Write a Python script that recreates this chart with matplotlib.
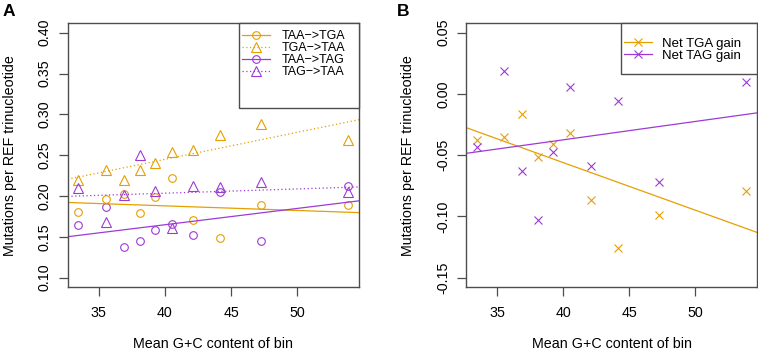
import matplotlib
matplotlib.use('Agg')
import matplotlib.pyplot as plt
from matplotlib.lines import Line2D
from matplotlib.patches import Rectangle
import numpy as np

plt.rcParams['font.family'] = ['Liberation Sans', 'DejaVu Sans']

# mean G+C content of each bin
gc = [33.46, 35.55, 36.88, 38.09, 39.24, 40.55, 42.13, 44.16, 47.23, 53.79]

# panel A: mutations per REF trinucleotide
taa_tga = [0.180, 0.196, 0.202, 0.179, 0.199, 0.222, 0.170, 0.148, 0.1885, 0.1885]
tga_taa = [0.2195, 0.2317, 0.2195, 0.2317, 0.2407, 0.254, 0.2563, 0.275, 0.288, 0.269]
taa_tag = [0.1647, 0.1864, 0.137, 0.1451, 0.1586, 0.1652, 0.1517, 0.2046, 0.1444, 0.2125]
tag_taa = [0.2093, 0.1676, 0.2011, 0.2497, 0.206, 0.161, 0.2125, 0.2113, 0.217, 0.2044]

# panel B: net gains
net_tga = [-0.0378, -0.0348, -0.016, -0.0517, -0.0408, -0.0321, -0.0862, -0.1259, -0.0987, -0.0791]
net_tag = [-0.0432, 0.019, -0.0628, -0.1028, -0.047, 0.0054, -0.059, -0.0057, -0.0715, 0.0098]

orange = '#E69F00'
purple = '#9D3AD6'
frame = '#4d4d4d'

xlim = (32.66, 54.65)


def style_axes(ax, ylim, yticks):
    ax.set_xlim(xlim)
    ax.set_ylim(ylim)
    ax.set_xticks([35, 40, 45, 50])
    ax.set_yticks(yticks)
    ax.yaxis.set_major_formatter(matplotlib.ticker.FormatStrFormatter('%.2f'))
    for s in ax.spines.values():
        s.set_color(frame)
        s.set_linewidth(1.0)
    ax.tick_params(direction='out', length=6.5, width=0.9, color=frame,
                   labelsize=10.3, pad=5)
    ax.tick_params(axis='x', pad=7)
    for lab in ax.get_yticklabels():
        lab.set_rotation(90)
        lab.set_va('center')
    ax.set_xlabel('Mean G+C content of bin', fontsize=10.3, labelpad=12)
    ax.set_ylabel('Mutations per REF trinucleotide', fontsize=10.3, labelpad=15)


def fit_line(ax, x, y, color, ls):
    m, b = np.polyfit(x, y, 1)
    ax.axline((0, b), slope=m, color=color, lw=0.9, ls=ls)


def legend_box(ax, x0, y0):
    # R style legend frame, drawn as a patch behind the legend entries
    ax.add_patch(Rectangle((x0, y0), 1 - x0, 1 - y0, transform=ax.transAxes,
                           facecolor='white', edgecolor=frame, lw=1.0,
                           zorder=4, clip_on=False))


fig = plt.figure(figsize=(7.58, 3.56), dpi=100)
axA = fig.add_axes([0.0893, 0.193, 0.3843, 0.7416])
axB = fig.add_axes([0.6148, 0.193, 0.3839, 0.7416])

# panel A
mk = dict(ls='none', mfc='none', mew=0.8)
axA.plot(gc, taa_tga, marker='o', ms=5.5, mec=orange, **mk)
axA.plot(gc, tga_taa, marker='^', ms=6.5, mec=orange, **mk)
axA.plot(gc, taa_tag, marker='o', ms=5.5, mec=purple, **mk)
axA.plot(gc, tag_taa, marker='^', ms=6.5, mec=purple, **mk)
fit_line(axA, gc, taa_tga, orange, '-')
fit_line(axA, gc, tga_taa, orange, (0, (1, 2)))
fit_line(axA, gc, taa_tag, purple, '-')
fit_line(axA, gc, tag_taa, purple, (0, (1, 2)))
style_axes(axA, (0.0882, 0.4115), [0.10, 0.15, 0.20, 0.25, 0.30, 0.35, 0.40])

handlesA = [
    Line2D([], [], color=orange, ls='-', lw=0.9, marker='o', ms=5.5, mfc='none', mew=0.8),
    Line2D([], [], color=orange, ls=(0, (1, 2)), lw=0.9, marker='^', ms=6.5, mfc='none', mew=0.8),
    Line2D([], [], color=purple, ls='-', lw=0.9, marker='o', ms=5.5, mfc='none', mew=0.8),
    Line2D([], [], color=purple, ls=(0, (1, 2)), lw=0.9, marker='^', ms=6.5, mfc='none', mew=0.8),
]
legend_box(axA, 0.587, 0.679)
legA = axA.legend(handlesA, ['TAA\u2212>TGA', 'TGA\u2212>TAA', 'TAA\u2212>TAG', 'TAG\u2212>TAA'],
                  loc='upper left', bbox_to_anchor=(0.582, 0.99), borderaxespad=0,
                  fontsize=9, labelspacing=0.0, handlelength=2.3, handletextpad=0.9,
                  borderpad=0.35, frameon=False)
legA.set_zorder(5)

# panel B
axB.plot(gc, net_tga, marker='x', ms=6, color=orange, ls='none', mew=0.8)
axB.plot(gc, net_tag, marker='x', ms=6, color=purple, ls='none', mew=0.8)
fit_line(axB, gc, net_tga, orange, '-')
fit_line(axB, gc, net_tag, purple, '-')
style_axes(axB, (-0.1578, 0.0577), [-0.15, -0.10, -0.05, 0.00, 0.05])

handlesB = [
    Line2D([], [], color=orange, ls='-', lw=0.9, marker='x', ms=6, mew=0.8),
    Line2D([], [], color=purple, ls='-', lw=0.9, marker='x', ms=6, mew=0.8),
]
legend_box(axB, 0.534, 0.808)
legB = axB.legend(handlesB, ['Net TGA gain', 'Net TAG gain'],
                  loc='upper left', bbox_to_anchor=(0.515, 0.977), borderaxespad=0,
                  fontsize=9.5, labelspacing=0.0, handlelength=2.1, handletextpad=0.8,
                  borderpad=0.6, frameon=False)
legB.set_zorder(5)

fig.text(0.004, 0.99, 'A', fontsize=12.5, fontweight='bold', va='top', ha='left')
fig.text(0.524, 0.99, 'B', fontsize=12.5, fontweight='bold', va='top', ha='left')

fig.savefig('out.png', dpi=100)
